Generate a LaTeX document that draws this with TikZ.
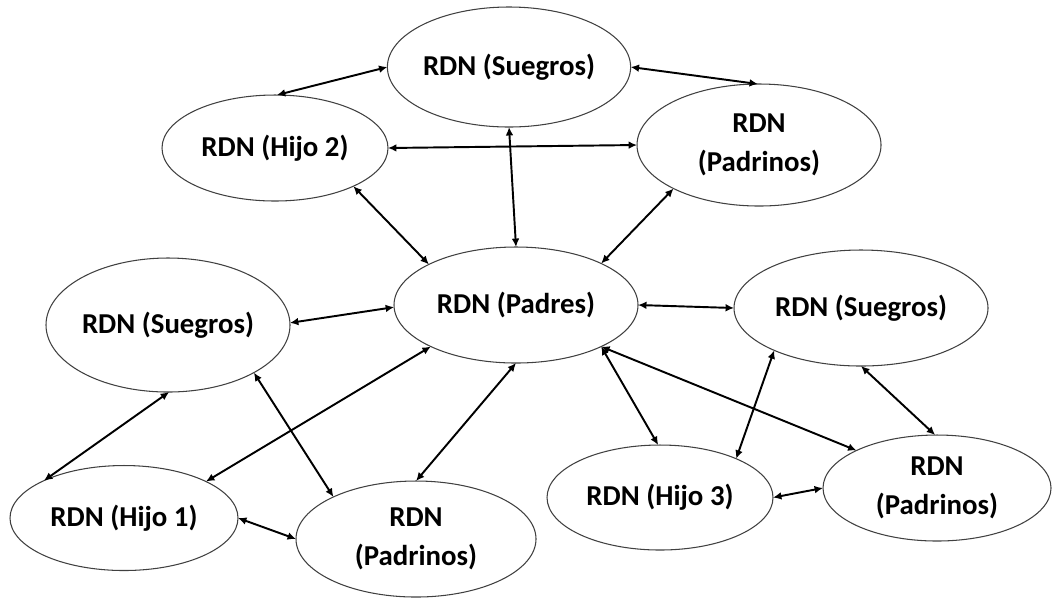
\documentclass[tikz,border=0pt]{standalone}
\usepackage{fontspec}
\setmainfont{Carlito}
\usetikzlibrary{shapes.geometric,arrows.meta}

\begin{document}
\begin{tikzpicture}[
        rdn/.style={ellipse,draw=black!75,line width=0.3pt,inner sep=0pt,outer sep=0pt,align=center,font=\bfseries\fontsize{8.2}{11}\selectfont},
        link/.style={{Latex[length=2.4pt,width=2.2pt]}-{Latex[length=2.4pt,width=2.2pt]},line width=0.55pt}
    ]
            \useasboundingbox (0,0) rectangle (10.52,5.99);
            \node[rdn,minimum width=2.22cm,minimum height=1.20cm] (suegrosA) at (5.09,5.32) {RDN (Suegros)};
            \node[rdn,minimum width=2.26cm,minimum height=1.06cm] (hijo2) at (2.75,4.51) {RDN (Hijo 2)};
            \node[rdn,minimum width=2.44cm,minimum height=1.22cm] (padrinosA) at (7.59,4.54) {RDN\\(Padrinos)};
            \node[rdn,minimum width=2.44cm,minimum height=1.16cm] (padres) at (5.16,2.94) {RDN (Padres)};
            \node[rdn,minimum width=2.44cm,minimum height=1.34cm] (suegrosB) at (1.68,2.74) {RDN (Suegros)};
            \node[rdn,minimum width=2.54cm,minimum height=1.16cm] (suegrosC) at (8.61,2.91) {RDN (Suegros)};
            \node[rdn,minimum width=2.28cm,minimum height=1.05cm] (hijo1) at (1.24,0.81) {RDN (Hijo 1)};
            \node[rdn,minimum width=2.40cm,minimum height=1.16cm] (padrinosB) at (4.16,0.60) {RDN\\(Padrinos)};
            \node[rdn,minimum width=2.26cm,minimum height=1.05cm] (hijo3) at (6.60,1.015) {RDN (Hijo 3)};
            \node[rdn,minimum width=2.28cm,minimum height=1.06cm] (padrinosC) at (9.37,1.11) {RDN\\(Padrinos)};

            % top family
            \draw[link] (hijo2.88)--(suegrosA.180);
            \draw[link] (suegrosA.0)--(padrinosA.91);
            \draw[link] (hijo2.0)--(padrinosA.180);
            \draw[link] (suegrosA.270)--(padres.90);
            \draw[link] (hijo2.334)--(padres.155);
            \draw[link] (padrinosA.207)--(padres.26);

            % left family
            \draw[link] (suegrosB.1)--(padres.181);
            \draw[link] (suegrosB.271)--(hijo1.155);
            \draw[link] (padres.206)--(hijo1.24);
            \draw[link] (suegrosB.331)--(padrinosB.153);
            \draw[link] (padres.270)--(padrinosB.90);
            \draw[link] (hijo1.0)--(padrinosB.180);

            % right family
            \draw[link] (padres.0)--(suegrosC.180);
            \draw[link] (padres.334)--(hijo3.92);
            \draw[link] (padres.334)--(padrinosC.155);
            \draw[link] (suegrosC.206)--(hijo3.27);
            \draw[link] (suegrosC.270)--(padrinosC.92);
            \draw[link] (hijo3.0)--(padrinosC.180);
\end{tikzpicture}
\end{document}
